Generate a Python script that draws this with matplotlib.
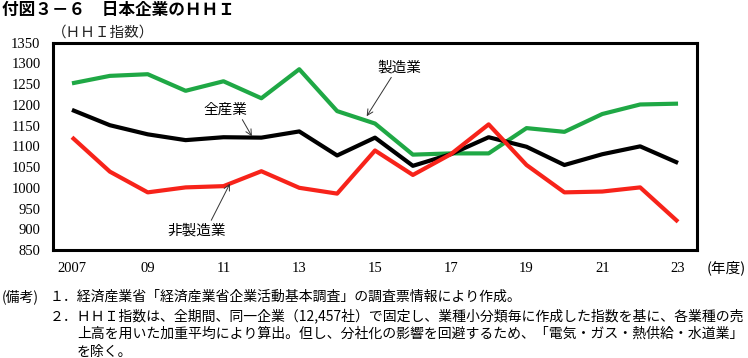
import numpy as np
from matplotlib import pyplot as plt

plt.rcParams['font.family'] = ['Noto Sans CJK JP', 'DejaVu Sans']

# Data (HHI index, fiscal years)
years = np.arange(2007, 2024)
manufacturing = [1252, 1270, 1274, 1234, 1257, 1216, 1286, 1185, 1155, 1080,
                 1083, 1083, 1144, 1135, 1178, 1201, 1203]
all_industries = [1188, 1151, 1129, 1115, 1122, 1121, 1136, 1078, 1121, 1053,
                  1081, 1122, 1099, 1055, 1081, 1100, 1060]
non_manufacturing = [1122, 1039, 989, 1001, 1004, 1040, 1000, 986, 1090, 1031,
                     1081, 1153, 1055, 989, 991, 1001, 918]

tick_years = [2007, 2009, 2011, 2013, 2015, 2017, 2019, 2021, 2023]
tick_labels = ['2007', '09', '11', '13', '15', '17', '19', '21', '23']
y_ticks = list(range(850, 1351, 50))

title = '付図３－６　日本企業のＨＨＩ'
y_label = '（ＨＨＩ指数）'
x_unit = '(年度)'
notes_head = '(備考)'
notes = [
    '１．経済産業省「経済産業省企業活動基本調査」の調査票情報により作成。',
    '２．ＨＨＩ指数は、全期間、同一企業（12,457社）で固定し、業種小分類毎に作成した指数を基に、各業種の売',
    '上高を用いた加重平均により算出。但し、分社化の影響を回避するため、「電気・ガス・熱供給・水道業」',
    'を除く。',
]

green = '#1fa845'
red = '#f7231a'
serif = ['Liberation Serif', 'DejaVu Serif']

figure = plt.figure(figsize=(7.48, 3.58), dpi=100)
axes = figure.add_axes([0.0709, 0.3017, 0.8609, 0.579])

axes.plot(years, manufacturing, color=green, linewidth=3.0, solid_capstyle='butt')
axes.plot(years, all_industries, color='black', linewidth=3.0, solid_capstyle='butt')
axes.plot(years, non_manufacturing, color=red, linewidth=3.0, solid_capstyle='butt')

axes.set_xlim(2006.5, 2023.5)
axes.set_ylim(850, 1350)
axes.set_yticks(y_ticks)
axes.set_yticklabels([str(v) for v in y_ticks], family=serif, fontsize=10.5)
axes.set_xticks(tick_years)
axes.set_xticklabels(tick_labels, family=serif, fontsize=10.5)
axes.tick_params(axis='y', length=0, pad=9)
axes.tick_params(axis='x', length=0, pad=9)
for spine in axes.spines.values():
    spine.set_linewidth(2.2)

# Labels with arrows pointing at the lines
arrow = dict(arrowstyle='->', color='#333333', linewidth=0.7, shrinkA=0, shrinkB=0)
tip_x = 2011.75
axes.annotate('全産業', xy=(tip_x, np.interp(tip_x, years, all_industries) + 3),
              xytext=(2011.05, 1188), ha='center', va='center', fontsize=10.5,
              arrowprops=dict(arrow, relpos=(0.85, 0.0)))
tip_x = 2014.78
axes.annotate('製造業', xy=(tip_x, np.interp(tip_x, years, manufacturing) + 11),
              xytext=(2015.65, 1290), ha='center', va='center', fontsize=10.5,
              arrowprops=dict(arrow, relpos=(0.35, 0.0)))
tip_x = 2011.17
axes.annotate('非製造業', xy=(tip_x, np.interp(tip_x, years, non_manufacturing)),
              xytext=(2010.3, 898), ha='center', va='center', fontsize=10.5,
              arrowprops=dict(arrow, relpos=(0.72, 1.0)))

figure.text(0.003, 0.972, title, fontsize=12, fontweight='bold', va='center')
figure.text(0.069, 0.91, y_label, fontsize=10.5, va='center', color='#222222')
figure.text(0.997, 0.252, x_unit, fontsize=10.5, va='center', ha='right')

figure.text(0.003, 0.170, notes_head, fontsize=10, va='center')
line_y = [0.170, 0.117, 0.067, 0.017]
line_x = [0.066, 0.066, 0.103, 0.103]
for text, x, y in zip(notes, line_x, line_y):
    figure.text(x, y, text, fontsize=10, va='center')

figure.savefig('out.png', dpi=100)
